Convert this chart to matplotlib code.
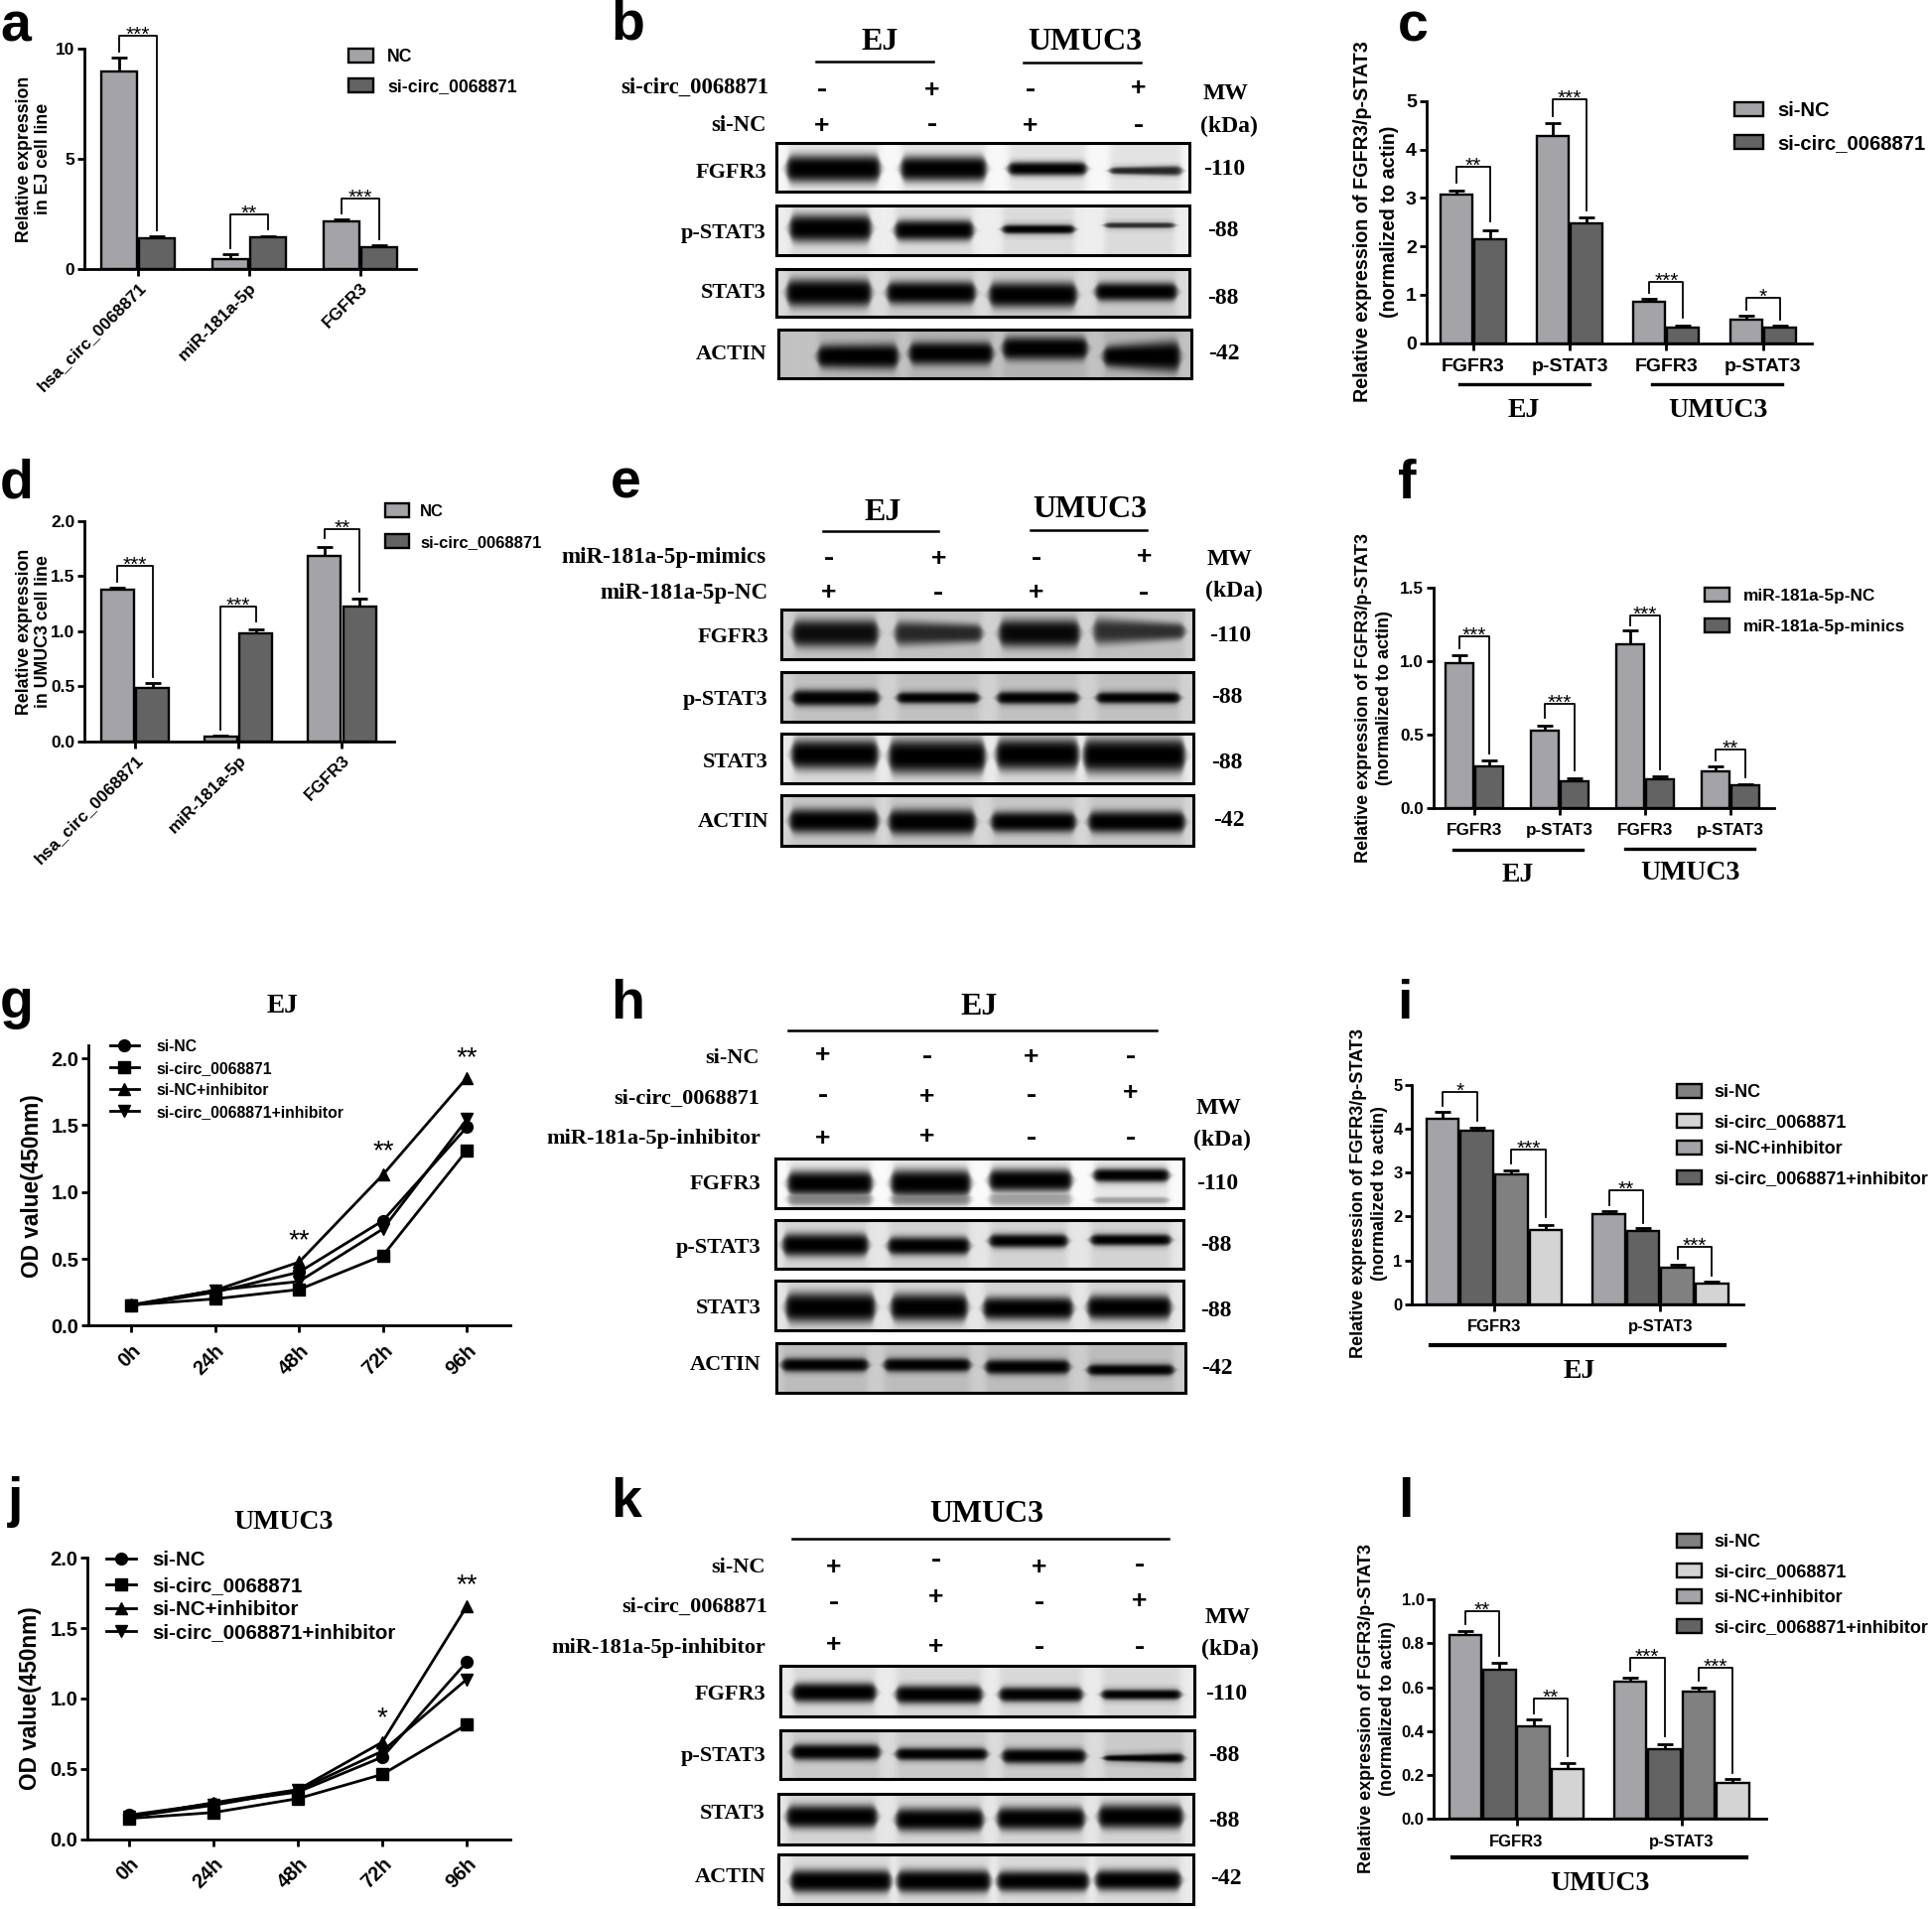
import numpy as np
import matplotlib
matplotlib.use('agg')
import matplotlib.pyplot as plt
from matplotlib.patches import Rectangle

W, H = 1946, 1923
SANS = 'Liberation Sans'
SERIF = 'Liberation Serif'

LIGHT = '#a3a3a8'
DARK = '#636363'
MID = '#808080'
PALE = '#d4d4d4'

# ---- bar chart values ----
a_groups = ['hsa_circ_0068871', 'miR-181a-5p', 'FGFR3']
a_nc = [8.96, 0.43, 2.16]
a_nc_err = [0.64, 0.25, 0.07]
a_si = [1.38, 1.41, 0.98]
a_si_err = [0.09, 0.08, 0.10]
a_brackets = [(0, 1, 9.86, 1.76, 10.57, '***'), (2, 3, 0.93, 1.80, 2.48, '**'), (4, 5, 2.50, 1.35, 3.18, '***')]

c_groups = ['FGFR3', 'p-STAT3', 'FGFR3', 'p-STAT3']
c_nc = [3.08, 4.29, 0.86, 0.49]
c_nc_err = [0.07, 0.25, 0.05, 0.085]
c_si = [2.15, 2.47, 0.32, 0.32]
c_si_err = [0.19, 0.13, 0.035, 0.035]
c_brackets = [(0, 1, 3.32, 2.52, 3.65, '**'), (2, 3, 4.69, 2.75, 5.04, '***'), (4, 5, 1.04, 0.53, 1.27, '***'), (6, 7, 0.70, 0.49, 0.93, '*')]

d_groups = ['hsa_circ_0068871', 'miR-181a-5p', 'FGFR3']
d_nc = [1.38, 0.04, 1.68]
d_nc_err = [0.015, 0.01, 0.085]
d_si = [0.48, 0.977, 1.22]
d_si_err = [0.046, 0.043, 0.076]
d_brackets = [(0, 1, 1.45, 0.586, 1.59, '***'), (2, 3, 0.105, 1.09, 1.227, '***'), (4, 5, 1.85, 1.36, 1.925, '**')]

f_groups = ['FGFR3', 'p-STAT3', 'FGFR3', 'p-STAT3']
f_nc = [0.989, 0.527, 1.113, 0.252]
f_nc_err = [0.051, 0.036, 0.094, 0.032]
f_mim = [0.286, 0.182, 0.198, 0.153]
f_mim_err = [0.036, 0.021, 0.016, 0.011]
f_brackets = [(0, 1, 1.086, 0.369, 1.169, '***'), (2, 3, 0.613, 0.257, 0.707, '***'), (4, 5, 1.243, 0.264, 1.313, '***'), (6, 7, 0.324, 0.207, 0.40, '**')]

i_groups = ['FGFR3', 'p-STAT3']
i_s1 = [4.23, 2.056]
i_s1_err = [0.15, 0.064]
i_s2 = [3.95, 1.664]
i_s2_err = [0.07, 0.083]
i_s3 = [2.96, 0.843]
i_s3_err = [0.08, 0.053]
i_s4 = [1.687, 0.467]
i_s4_err = [0.12, 0.06]
i_brackets = [(0, 1, 4.53, 4.19, 4.83, '*'), (2, 3, 3.21, 1.99, 3.53, '***'), (4, 5, 2.27, 1.86, 2.59, '**'), (6, 7, 1.03, 0.655, 1.31, '***')]

l_groups = ['FGFR3', 'p-STAT3']
l_s1 = [0.839, 0.625]
l_s1_err = [0.015, 0.017]
l_s2 = [0.679, 0.319]
l_s2_err = [0.032, 0.023]
l_s3 = [0.42, 0.58]
l_s3_err = [0.032, 0.02]
l_s4 = [0.227, 0.166]
l_s4_err = [0.026, 0.018]
l_brackets = [(0, 1, 0.887, 0.741, 0.947, '**'), (2, 3, 0.48, 0.285, 0.55, '**'), (4, 5, 0.673, 0.375, 0.733, '***'), (6, 7, 0.628, 0.209, 0.687, '***')]

# ---- growth curves ----
hours = ['0h', '24h', '48h', '72h', '96h']
curve_names = ['si-NC', 'si-circ_0068871', 'si-NC+inhibitor', 'si-circ_0068871+inhibitor']
g_si_nc = [0.15, 0.25, 0.40, 0.786, 1.487]
g_si_circ = [0.154, 0.20, 0.27, 0.525, 1.313]
g_nc_inh = [0.155, 0.264, 0.475, 1.13, 1.856]
g_circ_inh = [0.15, 0.264, 0.33, 0.724, 1.545]
g_stars = ['', '', '**', '**', '**']
g_star_y = [0, 0, 0.632, 1.30, 2.0]
j_si_nc = [0.172, 0.254, 0.336, 0.584, 1.259]
j_si_circ = [0.148, 0.19, 0.289, 0.461, 0.814]
j_nc_inh = [0.16, 0.26, 0.353, 0.69, 1.654]
j_circ_inh = [0.16, 0.242, 0.348, 0.626, 1.136]
j_stars = ['', '', '', '*', '**']
j_star_y = [0, 0, 0, 0.854, 1.80]

# ---- western blots: each band is x0, x1, yc, half height left, half height right, darkness ----
blot_rows = ['FGFR3', 'p-STAT3', 'STAT3', 'ACTIN']
b_bands = [
    [(11, 104, 26, 12, 12, 1), (126, 211, 26, 11, 11, 1), (234, 312, 26, 6, 6, 1), (336, 408, 28, 3, 4.5, .8)],
    [(14, 95, 23, 12, 12, 1), (120, 198, 25, 9, 9, 1), (228, 300, 24, 4, 4, 1), (331, 401, 20, 2.5, 2.5, .75)],
    [(11, 95, 24, 12, 12, 1), (112, 200, 24, 10, 10, 1), (215, 302, 26, 11, 11, 1), (322, 403, 23, 8, 8, 1)],
    [(40, 120, 27, 10, 11, 1), (132, 215, 24, 10, 10, 1), (226, 310, 19, 10, 10, 1), (327, 403, 27, 9, 14, 1)],
]
b_bg = [0.97, 0.93, 0.86, 0.76]
e_bands = [
    [(12, 97, 24, 12, 12, .92), (115, 202, 24, 11, 8, .76), (220, 300, 24, 12, 12, .95), (315, 406, 22, 12, 7, .72)],
    [(12, 98, 26, 7, 7, 1), (117, 199, 26, 5, 5, 1), (218, 299, 26, 5.5, 5.5, 1), (318, 401, 26, 5, 5, 1)],
    [(11, 97, 21, 13, 13, 1), (109, 205, 23, 15, 15, 1), (217, 299, 21, 14, 14, 1), (305, 406, 22, 15, 15, 1)],
    [(9, 97, 26, 10.5, 10.5, 1), (109, 195, 27, 11, 11, 1), (212, 296, 27, 9, 9, 1), (310, 406, 27, 9.5, 9.5, 1)],
]
e_bg = [0.82, 0.82, 0.92, 0.84]
h_bands = [
    [(13, 97, 25, 11, 11, 1), (117, 196, 25, 12, 12, 1), (216, 298, 22, 10, 10, 1), (321, 396, 17, 6, 6, 1), (13, 97, 41, 6, 6, .4), (117, 196, 41, 6, 6, .4), (216, 298, 41, 6, 6, .3), (321, 396, 42, 3, 3, .3)],
    [(8, 93, 25, 10, 10, 1), (114, 195, 26, 8, 8, 1), (216, 294, 21, 6, 6, 1), (318, 398, 20, 5, 5, 1)],
    [(11, 100, 27, 13, 13, 1), (117, 193, 27, 12, 12, 1), (210, 299, 28, 10, 10, 1), (315, 398, 27, 10.5, 10.5, 1)],
    [(6, 92, 22, 6, 6, 1), (109, 195, 22, 6, 6, 1), (211, 295, 24, 6.5, 6.5, 1), (314, 400, 27, 5, 5, 1)],
]
h_bg = [0.98, 0.9, 0.9, 0.8]
k_bands = [
    [(13, 96, 27, 8.5, 8.5, 1), (117, 203, 29, 8, 8, 1), (221, 304, 29, 6.5, 6.5, 1), (324, 403, 29, 4.5, 4.5, 1)],
    [(12, 100, 22, 7, 7, 1), (117, 208, 24, 5.5, 5.5, 1), (224, 307, 26, 6.5, 6.5, 1), (326, 406, 28, 2.5, 4.5, 1)],
    [(9, 99, 23, 10, 10, 1), (119, 206, 26, 10, 10, 1), (221, 308, 25, 10, 10, 1), (323, 407, 23, 10.5, 10.5, 1)],
    [(13, 113, 27, 10, 10, 1), (120, 213, 27, 10, 10, 1), (221, 312, 27, 9, 9, 1), (320, 405, 26, 9, 9, 1)],
]
k_bg = [0.92, 0.86, 0.9, 0.92]

plt.rcParams['font.family'] = SANS
fig = plt.figure(figsize=(W / 100, H / 100), dpi=100, facecolor='white')

# overlay in reference pixels for all the loose labels
ov = fig.add_axes([0, 0, 1, 1], zorder=5)
ov.patch.set_alpha(0)
ov.axis('off')


def sans(x, y, s, size, **kw):
    kw.setdefault('ha', 'center')
    kw.setdefault('va', 'center')
    ov.text(x, y, s, fontsize=size, fontweight='bold', family=SANS, **kw)


def legend_text(x, y, s, size):
    sans(x, y + 1.5, s, size, ha='left')


def serif(x, y, s, size, **kw):
    # matplotlib centres on the line box, caps sit a bit high
    kw.setdefault('ha', 'center')
    kw.setdefault('va', 'center')
    ov.text(x, y + 2, s, fontsize=size, fontweight='bold', family=SERIF, **kw)


def style_axes(ax, size):
    for s in ['top', 'right']:
        ax.spines[s].set_visible(False)
    for s in ['left', 'bottom']:
        ax.spines[s].set_linewidth(2.0)
    ax.patch.set_alpha(0)
    ax.tick_params(width=2.0, length=5, labelsize=size, pad=2)
    for t in ax.get_yticklabels():
        t.set_fontweight('bold')


def bar_panel(x0, x1, y_top, y_bot, ymax, tick0, spacing, bar_w, pitch, groups, vals, errs, colors, yticks,
              ylabels, brackets, size, star=15, rotate=False):
    ax = fig.add_axes([x0 / W, 1 - y_bot / H, (x1 - x0) / W, (y_bot - y_top) / H])
    ax.set_xlim((x0 - tick0) / spacing, (x1 - tick0) / spacing)
    ax.set_ylim(0, ymax)
    n = len(vals)
    pos = []
    for j in range(n):
        off = (j - (n - 1) / 2) * pitch / spacing
        xs = np.arange(len(groups)) + off
        ax.bar(xs, vals[j], width=bar_w / spacing, color=colors[j], edgecolor='black', linewidth=1.7, zorder=3)
        ax.errorbar(xs, vals[j], yerr=[np.zeros(len(xs)), errs[j]], fmt='none', ecolor='black', elinewidth=2.0,
                    capsize=6, capthick=2.0, zorder=2)
        pos.append(xs)
    pos = [pos[j][g] for g in range(len(groups)) for j in range(n)]
    for i0, i1, yl, yr, top, s in brackets:
        ax.plot([pos[i0], pos[i0], pos[i1], pos[i1]], [yl, top, top, yr], color='black', lw=1.3, clip_on=False, zorder=4)
        ax.annotate(s, ((pos[i0] + pos[i1]) / 2, top), xytext=(0, -3.5), textcoords='offset points', ha='center',
                    va='baseline', fontsize=star, annotation_clip=False)
    ax.set_xticks(np.arange(len(groups)))
    if rotate:
        ax.set_xticklabels(groups, rotation=45, ha='right', rotation_mode='anchor', fontweight='bold', fontsize=size)
    else:
        ax.set_xticklabels(groups, fontweight='bold', fontsize=size)
    ax.set_yticks(yticks)
    ax.set_yticklabels(ylabels)
    style_axes(ax, size)
    ax.tick_params(axis='x', pad=3 if rotate else 6)
    return ax


def line_panel(x0, x1, y_top, y_bot, ymax, tick0, spacing, curves, stars, star_y, yticks, ylabels):
    ax = fig.add_axes([x0 / W, 1 - y_bot / H, (x1 - x0) / W, (y_bot - y_top) / H])
    ax.set_xlim((x0 - tick0) / spacing, (x1 - tick0) / spacing)
    ax.set_ylim(0, ymax)
    xs = np.arange(len(hours))
    for vals, m in zip(curves, ['o', 's', '^', 'v']):
        ax.plot(xs, vals, color='black', lw=2.0, marker=m, markersize=8.5, clip_on=False)
    for x, s, y in zip(xs, stars, star_y):
        if s:
            ax.text(x, y, s, ha='center', va='center', fontsize=20)
    ax.set_xticks(xs)
    ax.set_xticklabels(hours, rotation=45, ha='right', rotation_mode='anchor', fontweight='bold', fontsize=14.5)
    ax.set_yticks(yticks)
    ax.set_yticklabels(ylabels)
    style_axes(ax, 14.5)
    ax.tick_params(axis='x', pad=6)
    return ax


def swatches(x0, x1, ys, tx, names, colors, size, h=14):
    for y, name, c in zip(ys, names, colors):
        ov.add_patch(Rectangle((x0, y - h / 2), x1 - x0, h, facecolor=c, edgecolor='black', lw=1.7))
        legend_text(tx, y, name, size)


def line_legend(x0, x1, ys, tx, size):
    for y, name, m in zip(ys, curve_names, ['o', 's', '^', 'v']):
        ov.plot([x0, x1], [y, y], color='black', lw=2.0)
        ov.plot([(x0 + x1) / 2], [y], color='black', marker=m, markersize=8.5)
        legend_text(tx, y, name, size)


def blot_image(w, h, bands, bg):
    xs = np.arange(w) + 0.5
    ys = (np.arange(h) + 0.5)[:, None]
    dark = np.zeros((h, w))
    wash = np.zeros((h, w))
    for x0, x1, yc, hl, hr, d in bands:
        edge = 1 / (1 + np.exp(-(xs - x0) / 1.8)) / (1 + np.exp((xs - x1) / 1.8))
        t = np.clip((xs - x0) / (x1 - x0), 0, 1)
        hh = 1.1 * (hl + (hr - hl) * t) * np.sqrt(edge) + 0.01
        core = np.exp(-np.abs((ys - yc) / hh) ** 3) * edge * d
        halo = 0.28 * np.exp(-((ys - yc) / (hh + 6)) ** 2) * edge * d
        dark = np.maximum(dark, core)
        wash = np.maximum(wash, np.maximum(halo, 0.08 * edge))
    return np.clip(bg * (1 - wash) * (1 - dark), 0, 1)


def blot_panel(frames, label_right, label_y, bands, bgs, size=16):
    for (x0, x1, y0, y1), name, ly, bb, bg in zip(frames, blot_rows, label_y, bands, bgs):
        img = blot_image(int(x1 - x0), int(y1 - y0), bb, bg)
        ov.imshow(img, extent=(x0, x1, y1, y0), cmap='gray', vmin=0, vmax=1, aspect='auto', interpolation='bilinear')
        ov.add_patch(Rectangle((x0, y0), x1 - x0, y1 - y0, fill=False, edgecolor='black', lw=2.2))
        serif(label_right, ly, name, size, ha='right')


def sign_rows(xs, rows, ys):
    for signs, row_y in zip(rows, ys):
        for x, s, y in zip(xs, signs, row_y):
            if s == '+':
                ov.text(x, y, s, fontsize=19, fontweight='bold', family=SANS, ha='center', va='center_baseline')
            else:
                ov.text(x, y, s, fontsize=22, fontweight='bold', family=SERIF, ha='center', va='center_baseline')


def weights(xs, ys, labels, size=17):
    for x, y, s in zip(xs, ys, labels):
        serif(x, y, s, size, ha='left')


# ---- panel a ----
bar_panel(85, 419, 48.7, 270.7, 10, 139, 112, 36, 38, a_groups, [a_nc, a_si], [a_nc_err, a_si_err], [LIGHT, DARK],
          [0, 5, 10], ['0', '5', '10'], a_brackets, 12.5, rotate=True)
sans(34, 160, 'Relative expression\nin EJ cell line', 12.8, rotation=90, multialignment='center')
swatches(351, 376, [56, 86], 390, ['NC', 'si-circ_0068871'], [LIGHT, DARK], 12.7)

# ---- panel c ----
bar_panel(1436.6, 1825, 102, 345.7, 5, 1483.8, 97.3, 32, 34, c_groups, [c_nc, c_si], [c_nc_err, c_si_err], [LIGHT, DARK],
          [0, 1, 2, 3, 4, 5], ['0', '1', '2', '3', '4', '5'], c_brackets, 14)
sans(1386, 223, 'Relative expression of FGFR3/p-STAT3\n(normalized to actin)', 14.2, rotation=90, multialignment='center', linespacing=1.5)
swatches(1746.6, 1776, [110, 143], 1790.7, ['si-NC', 'si-circ_0068871'], [LIGHT, DARK], 14.6)
ov.plot([1470, 1600.5], [387, 387], color='black', lw=2.4)
ov.plot([1664, 1795], [387, 387], color='black', lw=2.4)
serif(1535, 412, 'EJ', 20)
serif(1730, 412, 'UMUC3', 20)

# ---- panel d ----
bar_panel(85, 397, 525, 746.7, 2, 135.9, 104.3, 33, 35.6, d_groups, [d_nc, d_si], [d_nc_err, d_si_err], [LIGHT, DARK],
          [0, 0.5, 1, 1.5, 2], ['0.0', '0.5', '1.0', '1.5', '2.0'], d_brackets, 12.5, rotate=True)
sans(34, 636, 'Relative expression\nin UMUC3 cell line', 12.8, rotation=90, multialignment='center')
swatches(387.7, 412, [514, 544.7], 423, ['NC', 'si-circ_0068871'], [LIGHT, DARK], 12)

# ---- panel f ----
bar_panel(1443.6, 1786.5, 592, 814, 1.5, 1485, 86, 28, 29.4, f_groups, [f_nc, f_mim], [f_nc_err, f_mim_err], [LIGHT, DARK],
          [0, 0.5, 1, 1.5], ['0.0', '0.5', '1.0', '1.5'], f_brackets, 12.3)
sans(1384, 703, 'Relative expression of FGFR3/p-STAT3\n(normalized to actin)', 13, rotation=90, multialignment='center', linespacing=1.35)
swatches(1717, 1742.4, [599, 630], 1756, ['miR-181a-5p-NC', 'miR-181a-5p-minics'], [LIGHT, DARK], 12.4)
ov.plot([1463.7, 1594], [856, 856], color='black', lw=2.4)
ov.plot([1636.5, 1767], [855, 855], color='black', lw=2.4)
serif(1528.6, 879, 'EJ', 20)
serif(1702, 878, 'UMUC3', 20)

# ---- panel g ----
line_panel(89, 513.6, 1052.7, 1335.3, 2.1, 132, 84.6, [g_si_nc, g_si_circ, g_nc_inh, g_circ_inh], g_stars, g_star_y,
           [0, 0.5, 1, 1.5, 2], ['0.0', '0.5', '1.0', '1.5', '2.0'])
sans(33, 1194.5, 'OD value(450nm)', 16.3, rotation=90)
line_legend(110.7, 140, [1053, 1075, 1097, 1119], 157, 11.3)
serif(284, 1012, 'EJ', 19.6)

# ---- panel j ----
line_panel(88, 514, 1569.3, 1852.7, 2, 130.4, 84.9, [j_si_nc, j_si_circ, j_nc_inh, j_circ_inh], j_stars, j_star_y,
           [0, 0.5, 1, 1.5, 2], ['0.0', '0.5', '1.0', '1.5', '2.0'])
sans(31, 1711, 'OD value(450nm)', 16.3, rotation=90)
line_legend(107, 137, [1570, 1595.7, 1620, 1643], 153.6, 14.8)
serif(285.7, 1531, 'UMUC3', 20)

# ---- panel i ----
bar_panel(1422.3, 1756.3, 1092.7, 1314, 5, 1505, 167.4, 32.5, 34.6, i_groups, [i_s1, i_s2, i_s3, i_s4],
          [i_s1_err, i_s2_err, i_s3_err, i_s4_err], [LIGHT, DARK, MID, PALE],
          [0, 1, 2, 3, 4, 5], ['0', '1', '2', '3', '4', '5'], i_brackets, 12)
sans(1379, 1202.5, 'Relative expression of FGFR3/p-STAT3\n(normalized to actin)', 13, rotation=90, multialignment='center', linespacing=1.35)
swatches(1688.7, 1713.8, [1099.3, 1129.3, 1156, 1186], 1726.5, curve_names, [MID, PALE, LIGHT, DARK], 13)
ov.plot([1440.5, 1737.4], [1355, 1355], color='black', lw=3)
serif(1590.5, 1380, 'EJ', 20)

# ---- panel l ----
bar_panel(1444.4, 1778.7, 1611, 1832.3, 1, 1527.5, 166.2, 32.5, 34.4, l_groups, [l_s1, l_s2, l_s3, l_s4],
          [l_s1_err, l_s2_err, l_s3_err, l_s4_err], [LIGHT, DARK, MID, PALE],
          [0, 0.2, 0.4, 0.6, 0.8, 1], ['0.0', '0.2', '0.4', '0.6', '0.8', '1.0'], l_brackets, 12)
sans(1387, 1721, 'Relative expression of FGFR3/p-STAT3\n(normalized to actin)', 13, rotation=90, multialignment='center', linespacing=1.35)
swatches(1688.7, 1713.8, [1551.7, 1581.7, 1608, 1638], 1726.5, curve_names, [MID, PALE, LIGHT, DARK], 13)
ov.plot([1462.5, 1759.4], [1871, 1871], color='black', lw=3)
serif(1611.7, 1895, 'UMUC3', 20)

# ---- panel b ----
blot_panel([(782, 1198, 144, 193), (782, 1198, 207, 257), (782, 1198, 271, 319), (783.5, 1199.6, 332, 381)],
           772, [171.7, 232.7, 293, 355], b_bands, b_bg)
serif(885.7, 40.7, 'EJ', 23)
serif(1092.4, 40, 'UMUC3', 23)
ov.plot([822, 940], [62.3, 62.3], color='black', lw=1.8)
ov.plot([1031, 1149], [62.7, 62.7], color='black', lw=1.8)
serif(774, 86, 'si-circ_0068871', 16.3, ha='right')
serif(772, 125, 'si-NC', 16.3, ha='right')
sign_rows([827.7, 939, 1038, 1147], [['-', '+', '-', '+'], ['+', '-', '+', '-']], [[87, 88, 87, 87], [124, 122, 124, 123]])
serif(1235, 92, 'MW', 17)
serif(1238, 125, '(kDa)', 17)
weights([1212.5, 1216, 1216, 1217], [169, 231, 298, 355], ['-110', '-88', '-88', '-42'])

# ---- panel e ----
blot_panel([(787, 1202, 614, 664), (787, 1202, 677, 727), (787, 1202, 739, 789), (787, 1202, 801, 852)],
           774, [640, 703, 766, 826], e_bands, e_bg)
serif(889.6, 514.3, 'EJ', 23)
serif(1098, 511.7, 'UMUC3', 23)
ov.plot([829, 945.4], [535, 535], color='black', lw=1.8)
ov.plot([1038.4, 1155], [534, 534], color='black', lw=1.8)
serif(772, 559, 'miR-181a-5p-mimics', 16.6, ha='right')
serif(774, 596, 'miR-181a-5p-NC', 16.6, ha='right')
sign_rows([834.8, 945.4, 1043.8, 1152.3], [['-', '+', '-', '+'], ['+', '-', '+', '-']], [[559, 560, 559, 559], [595, 594, 595, 594]])
serif(1238.6, 561.7, 'MW', 17)
serif(1242.5, 593.3, '(kDa)', 17)
weights([1217.8, 1220, 1220, 1221.7], [639, 701, 766, 825], ['-110', '-88', '-88', '-42'])

# ---- panel h ----
blot_panel([(781, 1192, 1167, 1217), (781, 1192, 1229, 1278), (781, 1192, 1290, 1340), (782, 1194, 1353, 1403)],
           766.4, [1190.7, 1255, 1316, 1373], h_bands, h_bg)
serif(986, 1013, 'EJ', 23)
ov.plot([793.7, 1165.4], [1037.7, 1037.7], color='black', lw=1.8)
serif(765, 1064, 'si-NC', 16, ha='right')
serif(765.4, 1105, 'si-circ_0068871', 16, ha='right')
serif(766.4, 1145, 'miR-181a-5p-inhibitor', 16, ha='right')
sign_rows([828.6, 934, 1038.5, 1138.5], [['+', '-', '+', '-'], ['-', '+', '-', '+'], ['+', '+', '-', '-']],
          [[1060, 1061, 1062, 1061], [1100, 1103, 1100, 1099], [1144, 1143, 1143, 1143]])
serif(1227.6, 1114.3, 'MW', 17)
serif(1230.5, 1146.7, '(kDa)', 17)
weights([1205, 1209, 1209, 1210], [1190.7, 1253, 1319, 1376.7], ['-110', '-88', '-88', '-42'])

# ---- panel k ----
blot_panel([(786, 1203, 1678, 1729), (786, 1203, 1743, 1792), (784, 1202, 1807, 1858), (784, 1202, 1868, 1918)],
           771, [1705, 1766.7, 1825, 1889], k_bands, k_bg)
serif(993.7, 1523.3, 'UMUC3', 23)
ov.plot([797.7, 1176.8], [1550, 1550], color='black', lw=1.8)
serif(771, 1576.7, 'si-NC', 16, ha='right')
serif(772.8, 1616.7, 'si-circ_0068871', 16, ha='right')
serif(771, 1657.7, 'miR-181a-5p-inhibitor', 16, ha='right')
sign_rows([840, 943, 1046.5, 1148], [['+', '-', '+', '-'], ['-', '+', '-', '+'], ['+', '+', '-', '-']],
          [[1576, 1568, 1577, 1573], [1611, 1607, 1611, 1611], [1655, 1656, 1656, 1656]])
serif(1236.5, 1627.7, 'MW', 17)
serif(1239, 1659.3, '(kDa)', 17)
weights([1214, 1217.6, 1217.6, 1219], [1704, 1766.7, 1832, 1890.7], ['-110', '-88', '-88', '-42'])

# ---- panel letters ----
panel_letters = ['a', 'b', 'c', 'd', 'e', 'f', 'g', 'h', 'i', 'j', 'k', 'l']
letter_x = [0, 615, 1408, 0, 615, 1408, 0, 615, 1407, 8, 615, 1408]
letter_y = [42, 40, 41, 502, 502, 502, 1025, 1026, 1026, 1527, 1528, 1528]
for s, x, y in zip(panel_letters, letter_x, letter_y):
    sans(x, y, s, 40, ha='left', va='baseline')

ov.set_xlim(0, W)
ov.set_ylim(H, 0)
fig.savefig('out.png', dpi=100)
